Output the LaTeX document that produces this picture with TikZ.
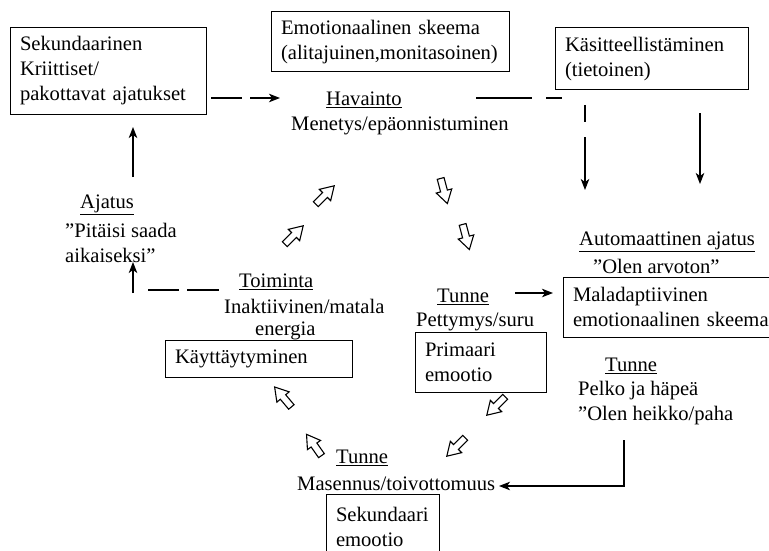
\documentclass[tikz,border=0pt]{standalone}
\usepackage{fontspec}
\setmainfont{Liberation Serif}
\usetikzlibrary{arrows.meta}

\begin{document}
\begin{tikzpicture}[x=1pt, y=-1pt, line join=miter, >={Stealth[length=11pt,width=8.5pt,inset=3pt]},
  every node/.style={font=\fontsize{20.6}{25}\selectfont},
  box/.style={draw, line width=1pt, inner xsep=10pt, inner ysep=0pt, align=left},
  lbl/.style={anchor=west, inner sep=0pt},
  conn/.style={line width=1.1pt},
  hollow/.pic={\draw[line width=1.1pt, fill=white] (-13,-3.5) -- (0,-3.5) -- (0,-8) -- (13,0) -- (0,8) -- (0,3.5) -- (-13,3.5) -- cycle;}]
  \useasboundingbox (0,0) rectangle (769,551);

  % Boxes
  \node[box, text width=176pt, minimum height=86pt] (sekajatus) at (108,71) {Sekundaarinen\\Kriittiset/\\pakottavat ajatukset};
  \node[box, text width=218pt, minimum height=60pt] (emoskeema) at (390,42) {Emotionaalinen skeema\\(alitajuinen,monitasoinen)};
  \node[box, text width=173pt, minimum height=62pt] (kasitt) at (651.5,59) {Käsitteellistäminen\\(tietoinen)};
  \node[box, text width=207pt, minimum height=60pt] (malad) at (676.5,307) {Maladaptiivinen\\emotionaalinen skeema};
  \node[box, text width=111pt, minimum height=60pt] (primaari) at (480.5,362) {Primaari\\emootio};
  \node[box, text width=93pt, minimum height=66pt] (sekemo) at (382.5,527) {Sekundaari\\emootio};
  \node[box, text width=167pt, minimum height=37pt] (kaytt) at (258.5,358.5) {Käyttäytyminen};

  % Labels
  \node[lbl] (havainto) at (326,100) {\underline{Havainto}};
  \node[lbl] (menetys) at (291,126) {Menetys/epäonnistuminen};
  \node[lbl] (autom) at (579,242) {\underline{Automaattinen ajatus}};
  \node[lbl] (arvoton) at (593,266) {”Olen arvoton”};
  \node[lbl] (tunne1) at (437,297) {\underline{Tunne}};
  \node[lbl] (pettymys) at (416,322) {Pettymys/suru};
  \node[lbl] (tunne2) at (605,366) {\underline{Tunne}};
  \node[lbl] (pelko) at (578,391) {Pelko ja häpeä};
  \node[lbl] (heikko) at (578,416) {”Olen heikko/paha};
  \node[lbl] (tunne3) at (336,458) {\underline{Tunne}};
  \node[lbl] (masennus) at (297,484) {Masennus/toivottomuus};
  \node[lbl] (toiminta) at (239,282) {\underline{Toiminta}};
  \node[lbl] (inakt) at (224,306) {Inaktiivinen/matala};
  \node[lbl] (energia) at (255,331) {energia};
  \node[lbl] (ajatus) at (80,205) {\underline{Ajatus}};
  \node[lbl] (pitaisi) at (65,230) {”Pitäisi saada};
  \node[lbl] (aikaan) at (65,255) {aikaiseksi”};

  % Connector ends
  \coordinate (kriitti-out) at (211,98);
  \coordinate (hav-in) at (280,98);
  \coordinate (hav-out) at (476,98);
  \coordinate (hav-end) at (562,98);
  \coordinate (kas-down) at (585,105);
  \coordinate (aut-in1) at (585,190);
  \coordinate (kas-out) at (700,113);
  \coordinate (aut-in2) at (700,184);
  \coordinate (tun-out) at (515,293);
  \coordinate (mal-in) at (553,293);
  \coordinate (pelko-out) at (624,440);
  \coordinate (corner) at (624,486);
  \coordinate (mas-in) at (499,486);
  \coordinate (toim-out) at (219,290);
  \coordinate (toim-end) at (148,290);
  \coordinate (ajat-low) at (133,293);
  \coordinate (ajat-in) at (133,262);
  \coordinate (ajat-top) at (133,177);
  \coordinate (sek-in) at (133,127);

  % Connectors
  \draw[conn, ->, dash pattern=on 31pt off 8pt] (kriitti-out) -- (hav-in);
  \draw[conn, dash pattern=on 56pt off 14pt] (hav-out) -- (hav-end);
  \draw[conn, ->, dash pattern=on 17pt off 15pt on 80pt off 5pt] (kas-down) -- (aut-in1);
  \draw[conn, ->] (kas-out) -- (aut-in2);
  \draw[conn, ->] (tun-out) -- (mal-in);
  \draw[conn, ->] (pelko-out) -- (corner) -- (mas-in);
  \draw[conn, dash pattern=on 32pt off 8pt] (toim-out) -- (toim-end);
  \draw[conn, ->] (ajat-low) -- (ajat-in);
  \draw[conn, ->] (ajat-top) -- (sek-in);

  % Hollow cycle arrows
  \pic[rotate=45] at (325,195) {hollow};
  \pic[rotate=45] at (294,235) {hollow};
  \pic[rotate=-75] at (444,191) {hollow};
  \pic[rotate=-75] at (466,237) {hollow};
  \pic[rotate=225] at (496,406) {hollow};
  \pic[rotate=225] at (456,447) {hollow};
  \pic[rotate=130] at (283,397) {hollow};
  \pic[rotate=125] at (314,445) {hollow};
\end{tikzpicture}
\end{document}
